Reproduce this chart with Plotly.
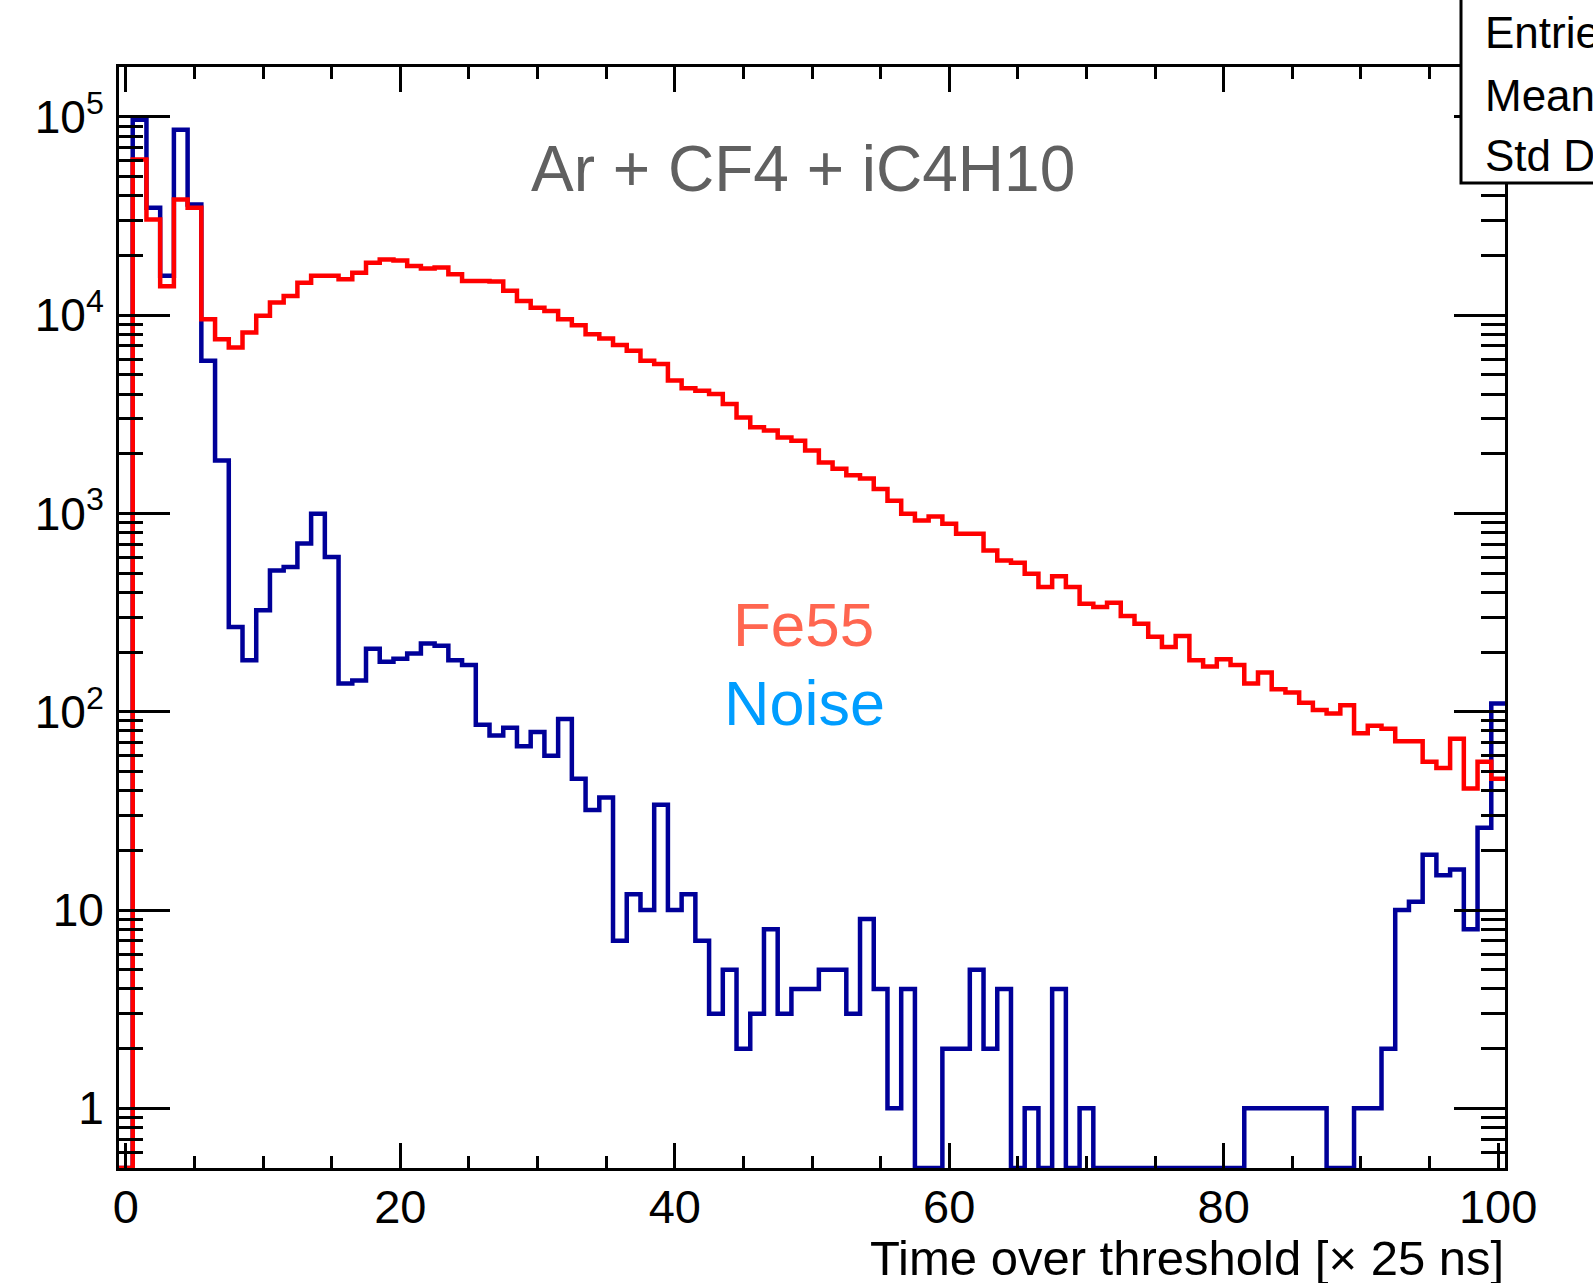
import plotly.graph_objects as go

# ---------------- data ----------------
bin_centers = list(range(0, 101))

fe55_counts = [0, 61000, 30400, 14000, 38400, 34800, 9550, 7570, 6870, 8180,
               9930, 11600, 12500, 14600, 15800, 15800, 15200, 16400, 18400, 19100,
               18900, 17700, 17200, 17400, 16100, 14900, 14900, 14800, 13300, 11800,
               10900, 10500, 9550, 8910, 8030, 7640, 7070, 6620, 5900, 5670,
               4680, 4280, 4160, 4010, 3570, 3050, 2720, 2620, 2420, 2330,
               2080, 1810, 1680, 1560, 1500, 1330, 1160, 998, 923, 965,
               887, 790, 790, 651, 580, 565, 497, 426, 482, 426,
               351, 338, 355, 304, 278, 239, 212, 241, 182, 169,
               184, 172, 139, 158, 130, 125, 111, 102, 98, 108,
               78, 85, 82, 71, 71, 56, 52, 73, 41, 56,
               46]

noise_counts = [0, 96900, 34800, 15800, 86300, 36200, 5890, 1850, 268, 182,
                325, 516, 537, 705, 998, 603, 139, 144, 208, 179,
                185, 197, 221, 215, 182, 172, 86, 76, 83, 67,
                79, 60, 92, 46, 32, 37, 7, 12, 10, 34,
                10, 12, 7, 3, 5, 2, 3, 8, 3, 4,
                4, 5, 5, 3, 9, 4, 1, 4, 0, 0,
                2, 2, 5, 2, 4, 0, 1, 0, 4, 0,
                1, 0, 0, 0, 0, 0, 0, 0, 0, 0,
                0, 0, 1, 1, 1, 1, 1, 1, 0, 0,
                1, 1, 2, 10, 11, 19, 15, 16, 8, 26,
                110]

x_tick_values = [0, 20, 40, 60, 80, 100]
x_tick_labels = ["0", "20", "40", "60", "80", "100"]
x_minor_values = [v for v in range(5, 100, 5) if v % 20 != 0]

y_tick_values = [1, 10, 100, 1000, 10000, 100000]
y_tick_labels = ["1", "10", "10<sup>2</sup>", "10<sup>3</sup>", "10<sup>4</sup>", "10<sup>5</sup>"]
y_minor_values = [m * 10 ** e for e in range(-1, 5) for m in range(2, 10)]
y_minor_values = [v for v in y_minor_values if v > 0.55]

title_text = "Ar + CF4 + iC4H10"
series_labels = ["Fe55", "Noise"]
x_axis_title = "Time over threshold [× 25 ns]"
stats_labels = ["Entries", "Mean", "Std Dev"]

# ---------------- layout constants ----------------
W, H = 1593, 1283
L_M, R_M, T_M, B_M = 119, 88, 67, 115
X_MIN, X_MAX = -0.5, 100.5
Y_MIN = 0.5
Y_LOG_MAX = 5.252
FONT = "Liberation Sans, Arial, Helvetica, sans-serif"

PLOT_W = W - L_M - R_M
PLOT_H = H - T_M - B_M


def px_x(p):
    return (p - L_M) / PLOT_W


def px_y(p):
    return (H - B_M - p) / PLOT_H


def step_xy(centers, counts):
    edges = [c - 0.5 for c in centers] + [centers[-1] + 0.5]
    ys = [max(v, Y_MIN) for v in counts] + [max(counts[-1], Y_MIN)]
    return edges, ys


fig = go.Figure()

nx, ny = step_xy(bin_centers, noise_counts)
fig.add_trace(go.Scatter(x=nx, y=ny, mode="lines", line_shape="hv",
                         line=dict(color="#000099", width=4.5), name=series_labels[1],
                         showlegend=False, hoverinfo="skip"))
fx, fy = step_xy(bin_centers, fe55_counts)
fig.add_trace(go.Scatter(x=fx, y=fy, mode="lines", line_shape="hv",
                         line=dict(color="#ff0000", width=4.5), name=series_labels[0],
                         showlegend=False, hoverinfo="skip"))

axis_common = dict(showline=True, linecolor="black", linewidth=3, mirror="ticks",
                   ticks="inside", tickcolor="black", tickwidth=3, showgrid=False,
                   zeroline=False)

fig.update_xaxes(range=[X_MIN, X_MAX], tickmode="array", tickvals=x_tick_values,
                 ticktext=x_tick_labels, ticklen=25, ticklabelstandoff=-4,
                 tickfont=dict(family=FONT, size=47, color="black"),
                 minor=dict(tickmode="array", tickvals=x_minor_values, ticklen=12,
                            tickwidth=3, tickcolor="black", ticks="inside"),
                 **axis_common)
fig.update_yaxes(type="log", range=[-0.30103, Y_LOG_MAX], tickmode="array",
                 tickvals=y_tick_values, ticktext=y_tick_labels, ticklen=51,
                 ticklabelstandoff=3,
                 tickfont=dict(family=FONT, size=46, color="black"),
                 minor=dict(tickmode="array", tickvals=y_minor_values, ticklen=24,
                            tickwidth=3, tickcolor="black", ticks="inside"),
                 **axis_common)

annotations = [
    dict(text=title_text, x=px_x(803), y=px_y(169), xref="paper", yref="paper",
         xanchor="center", yanchor="middle", showarrow=False,
         font=dict(family=FONT, size=64, color="#606060")),
    dict(text=series_labels[0], x=px_x(803), y=px_y(624), xref="paper", yref="paper",
         xanchor="center", yanchor="middle", showarrow=False,
         font=dict(family=FONT, size=62, color="#ff6650")),
    dict(text=series_labels[1], x=px_x(804), y=px_y(703), xref="paper", yref="paper",
         xanchor="center", yanchor="middle", showarrow=False,
         font=dict(family=FONT, size=63, color="#009dff")),
    dict(text=x_axis_title, x=px_x(1506), y=px_y(1258), xref="paper", yref="paper",
         xanchor="right", yanchor="middle", showarrow=False,
         font=dict(family=FONT, size=49, color="black")),
]
for lbl, yc in zip(stats_labels, [33, 96, 156]):
    annotations.append(dict(text=lbl, x=px_x(1483), y=px_y(yc), xref="paper", yref="paper",
                            xanchor="left", yanchor="middle", showarrow=False,
                            font=dict(family=FONT, size=44, color="black")))

shapes = [
    dict(type="rect", xref="paper", yref="paper", x0=px_x(1461), x1=px_x(1720),
         y0=px_y(183), y1=px_y(-30), fillcolor="white",
         line=dict(color="black", width=3), layer="above"),
]

fig.update_layout(width=W, height=H, margin=dict(l=L_M, r=R_M, t=T_M, b=B_M, pad=0),
                  paper_bgcolor="white", plot_bgcolor="white",
                  annotations=annotations, shapes=shapes, showlegend=False,
                  font=dict(family=FONT))

fig.write_html("out.html")
